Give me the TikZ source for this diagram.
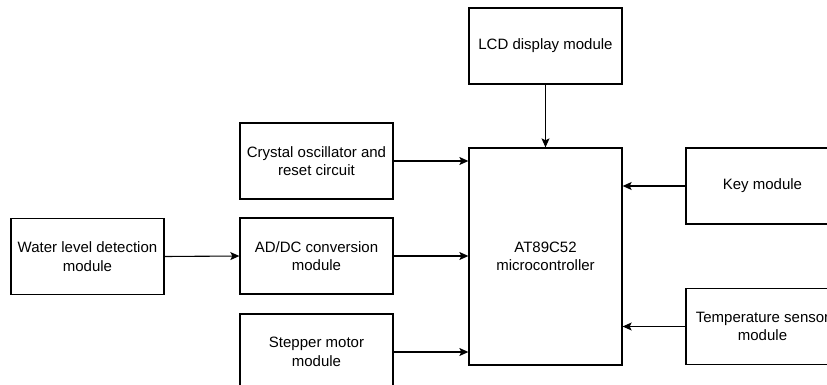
\documentclass[tikz,border=0pt]{standalone}
\usepackage{fontspec}
\setmainfont{Liberation Sans}
\usetikzlibrary{arrows.meta}
\begin{document}
\begin{tikzpicture}[x=1pt,y=-1pt,
  blk/.style={draw, line width=1.3pt, minimum width=153pt, minimum height=76pt, inner sep=0pt, align=center, font=\fontsize{15}{18.5}\selectfont},
  conn/.style={line width=1.1pt, -{Stealth[length=9pt,width=8pt,inset=2pt]}}]
\useasboundingbox (0,0) rectangle (827,385);
\clip (0,0) rectangle (827,385);
\node[blk] (water) at (87.5,256.5) {Water level detection\\module};
\node[blk] (crystal) at (316.5,161) {Crystal oscillator and\\reset circuit};
\node[blk] (adc) at (316.5,256) {AD/DC conversion\\module};
\node[blk] (step) at (316.5,352) {Stepper motor\\module};
\node[blk, minimum height=217pt] (mcu) at (545.5,256.5) {AT89C52\\microcontroller};
\node[blk] (lcd) at (545.5,46) {LCD display module};
\node[blk] (key) at (762.5,186) {Key module};
\node[blk] (temp) at (762.5,326.5) {Temperature sensor\\module};
\draw[conn] (water.east) -- (adc.west);
\draw[conn] (crystal.east) -- (mcu.west |- crystal.east);
\draw[conn] (adc.east) -- (mcu.west |- adc.east);
\draw[conn] (step.east) -- (mcu.west |- step.east);
\draw[conn] (lcd.south) -- (mcu.north);
\draw[conn] (key.west) -- (mcu.east |- key.west);
\draw[conn] (temp.west) -- (mcu.east |- temp.west);
\end{tikzpicture}
\end{document}
